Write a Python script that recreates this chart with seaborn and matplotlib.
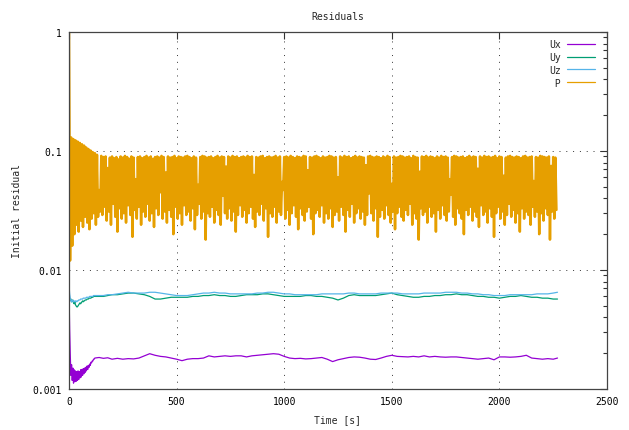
import numpy as np
import pandas as pd
import matplotlib
matplotlib.use("Agg")
import matplotlib.pyplot as plt
import seaborn as sns
from matplotlib.ticker import FixedLocator, FixedFormatter, LogLocator, NullFormatter

# ---------------- velocity residuals (sampled in time) ----------------
u_time = np.concatenate([
    np.arange(0, 121, 3),          # start-up transient
    [140, 160, 180],
    np.arange(200, 2251, 25),
    [2270],
])

ux_res = (
    [0.0068, 0.0032, 0.0019, 0.0013, 0.0016, 0.00118, 0.00150, 0.00112, 0.00145, 0.00115,
     0.00142, 0.00116, 0.00140, 0.00118, 0.00142, 0.00120, 0.00140, 0.00124, 0.00145, 0.00126,
     0.00146, 0.00130, 0.00148, 0.00134, 0.00150, 0.00138, 0.00152, 0.00142, 0.00156, 0.00146,
     0.00158, 0.00152, 0.00162, 0.00158, 0.00168, 0.00166, 0.00172, 0.00172, 0.00178, 0.00178,
     0.00182]
    + [0.00184, 0.00181, 0.00183]
    + [0.00178, 0.00181, 0.00178, 0.00180, 0.00179, 0.00182, 0.00190, 0.00198, 0.00192, 0.00188]
    + [0.00186, 0.00182, 0.00178, 0.00173, 0.00178, 0.00180, 0.00180, 0.00182, 0.00190, 0.00186]
    + [0.00188, 0.00190, 0.00188, 0.00190, 0.00190, 0.00186, 0.00190, 0.00192, 0.00194, 0.00196]
    + [0.00198, 0.00196, 0.00188, 0.00182, 0.00180, 0.00181, 0.00179, 0.00180, 0.00182, 0.00184]
    + [0.00178, 0.00170, 0.00176, 0.00180, 0.00184, 0.00186, 0.00185, 0.00182, 0.00178, 0.00177]
    + [0.00182, 0.00188, 0.00192, 0.00188, 0.00187, 0.00186, 0.00188, 0.00186, 0.00190, 0.00186]
    + [0.00188, 0.00186, 0.00185, 0.00186, 0.00186, 0.00184, 0.00182, 0.00180, 0.00178, 0.00180]
    + [0.00182, 0.00176, 0.00186, 0.00186, 0.00185, 0.00186, 0.00188, 0.00192, 0.00182, 0.00180]
    + [0.00178, 0.00180, 0.00178]
    + [0.00182]
)

uy_res = (
    [0.0057, 0.0055, 0.0057, 0.0057, 0.0054, 0.0055, 0.0056, 0.0053, 0.0052, 0.0054,
     0.0051, 0.0050, 0.0049, 0.0049, 0.0050, 0.0051, 0.0052, 0.0053, 0.0052, 0.0053,
     0.0054, 0.0055, 0.0054, 0.0055, 0.0055, 0.0056, 0.0056, 0.0056, 0.0057, 0.0057,
     0.0057, 0.0058, 0.0058, 0.0058, 0.0058, 0.0059, 0.0059, 0.0059, 0.0060, 0.0060,
     0.0060]
    + [0.0060, 0.0060, 0.0061]
    + [0.0062, 0.0062, 0.0063, 0.0064, 0.0064, 0.0063, 0.0062, 0.0060, 0.0057, 0.0057]
    + [0.0058, 0.0059, 0.0059, 0.0059, 0.0059, 0.0060, 0.0060, 0.0061, 0.0061, 0.0062]
    + [0.0061, 0.0061, 0.0060, 0.0060, 0.0061, 0.0062, 0.0062, 0.0062, 0.0063, 0.0063]
    + [0.0062, 0.0061, 0.0060, 0.0060, 0.0060, 0.0060, 0.0061, 0.0061, 0.0060, 0.0060]
    + [0.0059, 0.0058, 0.0056, 0.0058, 0.0061, 0.0062, 0.0061, 0.0061, 0.0061, 0.0061]
    + [0.0062, 0.0063, 0.0064, 0.0062, 0.0061, 0.0060, 0.0059, 0.0059, 0.0060, 0.0060]
    + [0.0061, 0.0061, 0.0062, 0.0062, 0.0063, 0.0062, 0.0062, 0.0061, 0.0060, 0.0060]
    + [0.0059, 0.0059, 0.0058, 0.0059, 0.0060, 0.0060, 0.0061, 0.0060, 0.0059, 0.0059]
    + [0.0058, 0.0058, 0.0057]
    + [0.0057]
)

uz_res = (
    [0.0075, 0.0063, 0.0058, 0.0055, 0.0054, 0.0056, 0.0055, 0.0054, 0.0055, 0.0054,
     0.0055, 0.0055, 0.0054, 0.0055, 0.0055, 0.0056, 0.0056, 0.0056, 0.0057, 0.0057,
     0.0057, 0.0057, 0.0058, 0.0058, 0.0058, 0.0058, 0.0058, 0.0059, 0.0059, 0.0059,
     0.0059, 0.0059, 0.0060, 0.0060, 0.0060, 0.0060, 0.0060, 0.0060, 0.0061, 0.0061,
     0.0061]
    + [0.0061, 0.0061, 0.0062]
    + [0.0062, 0.0063, 0.0064, 0.0065, 0.0064, 0.0064, 0.0064, 0.0065, 0.0065, 0.0064]
    + [0.0063, 0.0062, 0.0061, 0.0061, 0.0061, 0.0062, 0.0063, 0.0064, 0.0064, 0.0065]
    + [0.0064, 0.0064, 0.0063, 0.0063, 0.0063, 0.0063, 0.0063, 0.0064, 0.0064, 0.0065]
    + [0.0065, 0.0064, 0.0063, 0.0063, 0.0062, 0.0062, 0.0062, 0.0062, 0.0062, 0.0063]
    + [0.0063, 0.0063, 0.0063, 0.0063, 0.0064, 0.0064, 0.0063, 0.0063, 0.0063, 0.0063]
    + [0.0064, 0.0064, 0.0064, 0.0064, 0.0063, 0.0063, 0.0063, 0.0063, 0.0064, 0.0064]
    + [0.0064, 0.0064, 0.0065, 0.0065, 0.0065, 0.0064, 0.0064, 0.0063, 0.0063, 0.0062]
    + [0.0062, 0.0061, 0.0061, 0.0061, 0.0062, 0.0062, 0.0062, 0.0062, 0.0062, 0.0063]
    + [0.0063, 0.0063, 0.0064]
    + [0.0065]
)

# ---------------- pressure residual: local maxima and minima ----------------
p_peak_time = np.arange(0, 2270, 10)
p_trough_time = p_peak_time + 5

p_peaks = (
    [1.0, 0.130, 0.126, 0.123, 0.120, 0.117, 0.114, 0.111, 0.107, 0.104,
     0.101, 0.098, 0.096, 0.093, 0.047]
    + [0.091, 0.089, 0.090, 0.072, 0.088, 0.090, 0.087, 0.089, 0.085, 0.090]
    + [0.088, 0.091, 0.089, 0.086, 0.090, 0.088, 0.058, 0.089, 0.090, 0.087]
    + [0.089, 0.091, 0.088, 0.090, 0.086, 0.089, 0.090, 0.088, 0.091, 0.089]
    + [0.066, 0.090, 0.088, 0.089, 0.091, 0.087, 0.090, 0.089, 0.088, 0.090]
    + [0.091, 0.089, 0.087, 0.090, 0.088, 0.052, 0.089, 0.091, 0.090, 0.088]
    + [0.089, 0.090, 0.087, 0.089, 0.091, 0.088, 0.090, 0.089, 0.074, 0.090]
    + [0.088, 0.091, 0.089, 0.090, 0.087, 0.089, 0.090, 0.088, 0.091, 0.089]
    + [0.090, 0.063, 0.089, 0.088, 0.090, 0.091, 0.087, 0.089, 0.090, 0.088]
    + [0.089, 0.091, 0.088, 0.090, 0.055, 0.089, 0.090, 0.088, 0.091, 0.089]
    + [0.087, 0.090, 0.089, 0.088, 0.091, 0.090, 0.069, 0.089, 0.088, 0.090]
    + [0.091, 0.089, 0.087, 0.090, 0.088, 0.089, 0.091, 0.090, 0.088, 0.089]
    + [0.060, 0.090, 0.088, 0.091, 0.089, 0.090, 0.087, 0.089, 0.091, 0.088]
    + [0.090, 0.089, 0.088, 0.076, 0.090, 0.091, 0.089, 0.088, 0.090, 0.089]
    + [0.087, 0.090, 0.088, 0.091, 0.089, 0.053, 0.090, 0.088, 0.089, 0.091]
    + [0.090, 0.088, 0.089, 0.090, 0.087, 0.091, 0.089, 0.088, 0.067, 0.090]
    + [0.089, 0.091, 0.088, 0.090, 0.089, 0.087, 0.090, 0.088, 0.091, 0.089]
    + [0.090, 0.088, 0.058, 0.089, 0.091, 0.090, 0.088, 0.089, 0.090, 0.087]
    + [0.089, 0.091, 0.088, 0.090, 0.089, 0.071, 0.090, 0.088, 0.091, 0.089]
    + [0.090, 0.088, 0.089, 0.091, 0.087, 0.090, 0.089, 0.062, 0.088, 0.090]
    + [0.091, 0.089, 0.088, 0.090, 0.089, 0.087, 0.090, 0.091, 0.088, 0.089]
    + [0.090, 0.056, 0.089, 0.088, 0.091, 0.090, 0.089, 0.088, 0.090, 0.075]
    + [0.089, 0.088]
)

p_troughs = (
    [0.012, 0.016, 0.020, 0.024, 0.021, 0.026, 0.023, 0.028, 0.025, 0.022,
     0.027, 0.030, 0.024, 0.028, 0.031]
    + [0.029, 0.034, 0.026, 0.031, 0.024, 0.036, 0.028, 0.021, 0.033, 0.027]
    + [0.030, 0.025, 0.035, 0.029, 0.019, 0.032, 0.027, 0.034, 0.024, 0.031]
    + [0.028, 0.036, 0.026, 0.030, 0.023, 0.033, 0.029, 0.045, 0.027, 0.031]
    + [0.025, 0.032, 0.028, 0.020, 0.034, 0.027, 0.030, 0.024, 0.035, 0.029]
    + [0.031, 0.026, 0.033, 0.022, 0.029, 0.036, 0.027, 0.031, 0.018, 0.030]
    + [0.028, 0.034, 0.025, 0.032, 0.029, 0.024, 0.042, 0.030, 0.027, 0.033]
    + [0.026, 0.031, 0.021, 0.029, 0.035, 0.028, 0.032, 0.025, 0.030, 0.034]
    + [0.027, 0.023, 0.031, 0.029, 0.036, 0.026, 0.033, 0.019, 0.030, 0.028]
    + [0.034, 0.025, 0.031, 0.029, 0.047, 0.027, 0.032, 0.024, 0.030, 0.035]
    + [0.028, 0.022, 0.033, 0.029, 0.026, 0.031, 0.034, 0.027, 0.020, 0.030]
    + [0.032, 0.028, 0.035, 0.025, 0.030, 0.027, 0.033, 0.023, 0.029, 0.031]
    + [0.026, 0.034, 0.029, 0.021, 0.032, 0.028, 0.036, 0.025, 0.030, 0.033]
    + [0.027, 0.031, 0.024, 0.029, 0.044, 0.030, 0.026, 0.033, 0.019, 0.028]
    + [0.032, 0.027, 0.035, 0.029, 0.025, 0.031, 0.022, 0.030, 0.034, 0.028]
    + [0.026, 0.032, 0.029, 0.036, 0.024, 0.030, 0.027, 0.018, 0.033, 0.029]
    + [0.031, 0.025, 0.034, 0.028, 0.030, 0.021, 0.032, 0.027, 0.035, 0.029]
    + [0.026, 0.031, 0.043, 0.028, 0.024, 0.033, 0.030, 0.027, 0.020, 0.032]
    + [0.029, 0.034, 0.026, 0.031, 0.028, 0.023, 0.035, 0.029, 0.031, 0.025]
    + [0.033, 0.028, 0.019, 0.030, 0.034, 0.027, 0.031, 0.024, 0.029, 0.036]
    + [0.028, 0.032, 0.025, 0.030, 0.021, 0.033, 0.027, 0.031, 0.029, 0.024]
    + [0.034, 0.028, 0.031, 0.020, 0.030, 0.026, 0.033, 0.029, 0.018, 0.031]
    + [0.027, 0.032]
)

# interleave maxima and minima into one time-ordered series
p_time = np.empty(2 * len(p_peak_time))
p_time[0::2] = p_peak_time
p_time[1::2] = p_trough_time
p_res = np.empty(2 * len(p_peaks))
p_res[0::2] = p_peaks
p_res[1::2] = p_troughs

x_ticks = [0, 500, 1000, 1500, 2000, 2500]
y_ticks = [0.001, 0.01, 0.1, 1]
y_tick_labels = ["0.001", "0.01", "0.1", "1"]

# name, time, values, colour, line width
series = [
    ("Ux", u_time, ux_res, "#9400d3", 0.9),
    ("Uy", u_time, uy_res, "#009e73", 0.9),
    ("Uz", u_time, uz_res, "#56b4e9", 0.9),
    (" P", p_time, p_res, "#e69f00", 1.8),
]

# ---------------- figure ----------------
sns.set_theme(style="white")
plt.rcParams["font.family"] = ["DejaVu Sans Mono", "DejaVu Sans"]
plt.rcParams["font.size"] = 7

W, H = 629, 431
fig = plt.figure(figsize=(W / 100, H / 100), dpi=100)
ax = fig.add_axes([69 / W, 1 - 390 / H, 538 / W, 357 / H])

for name, t, v, col, lw in series:
    df = pd.DataFrame({"t": t, "v": v})
    sns.lineplot(data=df, x="t", y="v", ax=ax, color=col, lw=lw,
                 estimator=None, sort=False, label=name)

ax.set_yscale("log")
ax.set_xlim(0, 2500)
ax.set_ylim(0.001, 1)

ax.xaxis.set_major_locator(FixedLocator(x_ticks))
ax.yaxis.set_major_locator(FixedLocator(y_ticks))
ax.yaxis.set_major_formatter(FixedFormatter(y_tick_labels))
ax.yaxis.set_minor_locator(LogLocator(base=10, subs=np.arange(2, 10)))
ax.yaxis.set_minor_formatter(NullFormatter())

ax.tick_params(which="both", direction="in", top=True, right=True,
               color="#333333", labelcolor="black", labelsize=7)
ax.tick_params(which="major", length=5, width=0.8, pad=5)
ax.tick_params(which="minor", length=3.2, width=0.8)

ax.grid(True, which="major", color="#333333", linestyle=(0, (1, 6)), lw=0.7)
ax.set_axisbelow(True)

for sp in ax.spines.values():
    sp.set_color("#444444")
    sp.set_linewidth(0.9)

ax.set_title("Residuals", fontsize=7, pad=9.4)
ax.set_xlabel("Time [s]", fontsize=7)
ax.set_ylabel("Initial residual", fontsize=7)
ax.xaxis.set_label_coords(0.5, -0.07)
ax.xaxis.label.set_va("top")
ax.yaxis.set_label_coords(-0.087, 0.5)

leg = ax.legend(loc="upper right", bbox_to_anchor=(1 - 12 / 538, 1 - 7 / 357),
                borderaxespad=0, borderpad=0, frameon=False, markerfirst=False,
                handlelength=2.9, handletextpad=0.6, labelspacing=0.3, fontsize=7)
for line in leg.get_lines():
    line.set_linewidth(0.9)

fig.savefig("out.png", dpi=100)
